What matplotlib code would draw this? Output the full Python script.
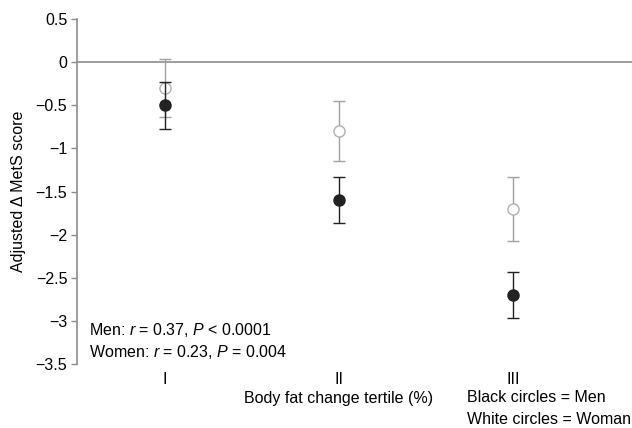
import numpy as np
import matplotlib
matplotlib.use('Agg')
import matplotlib.pyplot as plt

plt.rcParams['font.family'] = ['Liberation Sans', 'DejaVu Sans']
plt.rcParams['mathtext.fontset'] = 'custom'
plt.rcParams['mathtext.rm'] = 'Liberation Sans'
plt.rcParams['mathtext.it'] = 'Liberation Sans:italic'

# data
tertiles = ['I', 'II', 'III']
men_mean = [-0.50, -1.60, -2.70]
men_err = [0.27, 0.27, 0.27]
women_mean = [-0.30, -0.80, -1.70]
women_err = [0.34, 0.35, 0.37]
y_ticks = [0.5, 0, -0.5, -1, -1.5, -2, -2.5, -3, -3.5]

axis_grey = '#8c8c8c'
fs = 11.5

fig = plt.figure(figsize=(6.32, 4.28), dpi=100)
ax = fig.add_axes([77/632, 1 - 364/428, 1 - 77/632, (364 - 19)/428])

x = np.arange(1, len(tertiles) + 1)

ax.axhline(0, color=axis_grey, lw=1.2, zorder=1)

# women: white circles, grey bars
ax.errorbar(x, women_mean, yerr=women_err, fmt='o', ms=8,
            mfc='white', mec='#b0b0b0', mew=1.0,
            ecolor='#a0a0a0', elinewidth=1.0, capsize=4, capthick=1.0, zorder=3)
# men: black circles, black bars
ax.errorbar(x, men_mean, yerr=men_err, fmt='o', ms=8,
            mfc='#222222', mec='#222222',
            ecolor='#222222', elinewidth=1.0, capsize=4, capthick=1.0, zorder=4)

ax.set_xlim(0.494, 3.684)
ax.set_ylim(-3.5, 0.5)
ax.set_yticks(y_ticks)
ax.set_yticklabels([('%g' % v).replace('-', '\u2212') for v in y_ticks], fontsize=fs)
ax.set_xticks(x)
ax.set_xticklabels(tertiles, fontsize=fs)
ax.tick_params(axis='x', length=0, pad=6)
ax.tick_params(axis='y', length=4, color=axis_grey, width=1.0, pad=3)

for s in ['top', 'right', 'bottom']:
    ax.spines[s].set_visible(False)
ax.spines['left'].set_color(axis_grey)
ax.spines['left'].set_linewidth(1.2)

ax.set_ylabel('Adjusted \u0394 MetS score', fontsize=fs, labelpad=7)

fig.text(89/632, 1 - 330/428, 'Men: $r$ = 0.37, $P$ < 0.0001', fontsize=fs, va='center')
fig.text(89/632, 1 - 352/428, 'Women: $r$ = 0.23, $P$ = 0.004', fontsize=fs, va='center')
fig.text(339/632, 1 - 398/428, 'Body fat change tertile (%)', fontsize=fs, ha='center', va='center')
fig.text(467/632, 1 - 398/428, 'Black circles = Men', fontsize=fs, va='center')
fig.text(467/632, 1 - 420/428, 'White circles = Woman', fontsize=fs, va='center')

fig.savefig('out.png', dpi=100)
